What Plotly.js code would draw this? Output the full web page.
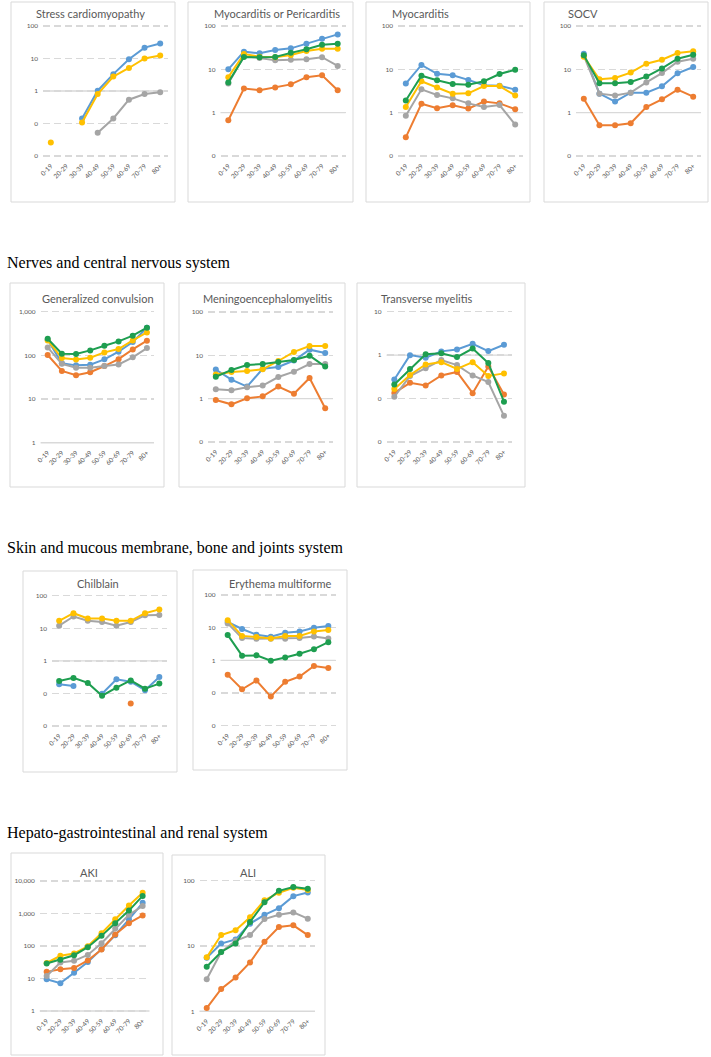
<!DOCTYPE html>
<html>
<head>
<meta charset="utf-8">
<script src="https://cdn.plot.ly/plotly-3.0.1.min.js"></script>
<style>
  html, body { margin: 0; padding: 0; background: #ffffff; }
  #chart { width: 711px; height: 1057px; }
</style>
</head>
<body>
<div id="chart"></div>
<script>
// ---------------- DATA ----------------
const ageGroups = ["0-19", "20-29", "30-39", "40-49", "50-59", "60-69", "70-79", "80+"];
const seriesNames = ["Series 1", "Series 2", "Series 3", "Series 4", "Series 5"];

const sectionHeadings = [
  "Nerves and central nervous system",
  "Skin and mucous membrane, bone and joints system",
  "Hepato-gastrointestinal and renal system"
];

const panelTitles = [
  "Stress cardiomyopathy", "Myocarditis or Pericarditis", "Myocarditis", "SOCV",
  "Generalized convulsion", "Meningoencephalomyelitis", "Transverse myelitis",
  "Chilblain", "Erythema multiforme", "AKI", "ALI"
];

// Stress cardiomyopathy
const stressBlue   = [null, null, 0.143, 1.02, 3.3, 9.5, 21.6, 28.8];
const stressOrange = [null, null, null, null, null, null, null, null];
const stressGray   = [null, null, null, 0.052, 0.143, 0.54, 0.81, 0.91];
const stressYellow = [0.026, null, 0.108, 0.81, 2.77, 5.1, 10, 12.3];
const stressGreen  = [null, null, null, null, null, null, null, null];

// Myocarditis or Pericarditis
const myoPeriBlue   = [10, 25.6, 23.4, 28, 30.5, 39, 51, 64];
const myoPeriOrange = [0.67, 3.6, 3.3, 3.8, 4.5, 6.6, 7.3, 3.3];
const myoPeriGray   = [4.7, 20, 18.3, 16.1, 16.7, 17, 19, 12];
const myoPeriYellow = [6.6, 22.6, 19.6, 19, 21.5, 26.5, 30, 30];
const myoPeriGreen  = [5, 19.2, 19, 19.2, 24, 29, 37, 39];

// Myocarditis
const myoBlue   = [4.7, 12.6, 7.9, 7.3, 5.7, 4.3, 4.2, 3.4];
const myoOrange = [0.27, 1.6, 1.26, 1.48, 1.24, 1.8, 1.64, 1.2];
const myoGray   = [0.85, 3.45, 2.55, 2.14, 1.64, 1.35, 1.5, 0.53];
const myoYellow = [1.35, 5.3, 3.8, 2.75, 2.8, 4.1, 4.1, 2.5];
const myoGreen  = [1.9, 7.1, 5.6, 4.6, 4.4, 5.3, 7.8, 9.8];

// SOCV
const socvBlue   = [23, 2.75, 1.8, 2.9, 2.9, 4.05, 8.1, 11.3];
const socvOrange = [2.1, 0.51, 0.51, 0.57, 1.35, 2.03, 3.4, 2.34];
const socvGray   = [20.4, 2.75, 2.5, 2.9, 5, 8.2, 15, 17.6];
const socvYellow = [19.6, 5.9, 6.3, 8.4, 13.5, 16.7, 23.8, 26];
const socvGreen  = [21, 4.8, 4.75, 5.1, 6.8, 10.5, 17.6, 21.8];

// Generalized convulsion
const convBlue   = [228, 66, 59, 61, 81, 121, 202, 430];
const convOrange = [102, 44, 35, 41, 57, 82, 137, 217];
const convGray   = [152, 64, 52, 52, 57, 62, 90, 147];
const convYellow = [220, 87, 80, 88, 117, 140, 220, 336];
const convGreen  = [240, 109, 107, 130, 166, 209, 282, 430];

// Meningoencephalomyelitis
const menBlue   = [4.7, 2.75, 1.9, 4.9, 5.4, 7.6, 13.5, 11.3];
const menOrange = [0.93, 0.74, 1.02, 1.13, 1.9, 1.3, 3, 0.6];
const menGray   = [1.64, 1.56, 1.83, 2, 3.16, 4.2, 6.3, 6.3];
const menYellow = [3.6, 4.1, 4.35, 4.75, 7.4, 12, 16.4, 16.4];
const menGreen  = [3.2, 4.6, 6, 6.3, 7, 7.8, 9.8, 5.5];

// Transverse myelitis
const tmBlue   = [0.275, 1.0, 0.87, 1.22, 1.35, 1.83, 1.24, 1.73];
const tmOrange = [0.135, 0.23, 0.2, 0.34, 0.41, 0.133, 0.55, 0.124];
const tmGray   = [0.11, 0.33, 0.5, 0.77, 0.59, 0.34, 0.24, 0.04];
const tmYellow = [0.165, 0.35, 0.61, 0.69, 0.48, 0.69, 0.33, 0.38];
const tmGreen  = [0.21, 0.48, 1.05, 1.1, 0.9, 1.42, 0.66, 0.085];

// Chilblain
const chilBlue   = [0.19, 0.17, null, 0.098, 0.27, 0.23, 0.126, 0.32];
const chilOrange = [null, null, null, null, null, 0.049, null, null];
const chilGray   = [12, 23, 17, 15.6, 12, 15.6, 25, 25.7];
const chilYellow = [17, 29, 20, 20, 17, 17, 29, 38];
const chilGreen  = [0.24, 0.3, 0.21, 0.085, 0.15, 0.25, 0.14, 0.2];

// Erythema multiforme
const eryBlue   = [14.9, 9.1, 6.1, 5.3, 7, 7.6, 10, 11.2];
const eryOrange = [0.36, 0.13, 0.24, 0.078, 0.22, 0.32, 0.67, 0.58];
const eryGray   = [13.5, 4.8, 4.6, 4.6, 4.6, 4.8, 5.4, 4.7];
const eryYellow = [17, 5.6, 5.2, 4.7, 5.6, 5.6, 7.7, 8.5];
const eryGreen  = [6, 1.39, 1.42, 0.98, 1.23, 1.6, 2.2, 3.6];

// AKI
const akiBlue   = [9.5, 7.2, 15, 32, 80, 215, 655, 2130];
const akiOrange = [16, 19.4, 21, 36, 78, 225, 505, 870];
const akiGray   = [12, 31, 35, 53, 122, 345, 910, 1700];
const akiYellow = [30, 50, 59, 98, 247, 670, 1770, 4350];
const akiGreen  = [29, 38, 52, 92, 205, 505, 1230, 3480];

// ALI
const aliBlue   = [6.6, 10.9, 12.6, 22, 30, 38, 58, 66];
const aliOrange = [1.12, 2.2, 3.3, 5.6, 11.6, 19.5, 20.7, 14.7];
const aliGray   = [3.1, 8.1, 12, 14.7, 25.9, 30, 32.7, 26.2];
const aliYellow = [6.7, 14.7, 17.4, 27.5, 50, 65.5, 78, 72];
const aliGreen  = [4.8, 8.1, 10.9, 23.3, 46.6, 70, 80, 75];

// Y tick values and labels per panel
const ticks4dec = [0.01, 0.1, 1, 10, 100];
const ticks4lab = ["0", "0", "1", "10", "100"];
const ticks3dec = [0.1, 1, 10, 100];
const ticks3lab = ["0", "1", "10", "100"];
const convTicks = [1, 10, 100, 1000];
const convLabels = ["1", "10", "100", "1,000"];
const tmTicks = [0.01, 0.1, 1, 10];
const tmLabels = ["0", "0", "1", "10"];
const akiTicks = [1, 10, 100, 1000, 10000];
const akiLabels = ["1", "10", "100", "1,000", "10,000"];
const aliTicks = [1, 10, 100];
const aliLabels = ["1", "10", "100"];

const panelSeries = [
  [stressBlue, stressOrange, stressGray, stressYellow, stressGreen],
  [myoPeriBlue, myoPeriOrange, myoPeriGray, myoPeriYellow, myoPeriGreen],
  [myoBlue, myoOrange, myoGray, myoYellow, myoGreen],
  [socvBlue, socvOrange, socvGray, socvYellow, socvGreen],
  [convBlue, convOrange, convGray, convYellow, convGreen],
  [menBlue, menOrange, menGray, menYellow, menGreen],
  [tmBlue, tmOrange, tmGray, tmYellow, tmGreen],
  [chilBlue, chilOrange, chilGray, chilYellow, chilGreen],
  [eryBlue, eryOrange, eryGray, eryYellow, eryGreen],
  [akiBlue, akiOrange, akiGray, akiYellow, akiGreen],
  [aliBlue, aliOrange, aliGray, aliYellow, aliGreen]
];
const panelTicks = [
  [ticks4dec, ticks4lab], [ticks3dec, ticks3lab], [ticks3dec, ticks3lab], [ticks3dec, ticks3lab],
  [convTicks, convLabels], [ticks3dec, ticks3lab], [tmTicks, tmLabels],
  [ticks4dec, ticks4lab], [ticks4dec, ticks4lab], [akiTicks, akiLabels], [aliTicks, aliLabels]
];

// ---------------- LAYOUT / STYLE ----------------
const W = 711, H = 1057;
const colors = ["#5B9BD5", "#ED7D31", "#A5A5A5", "#FFC000", "#1E9E50"];
const gridColor = "#D9D9D9";
const textGray = "#595959";
const uiFont = "Lato, 'Open Sans', sans-serif";

// geometry in pixels: border [x0,y0,x1,y1], plot [x0,yTop,x1,yBottom] (top/bottom tick positions), title centre [x,y]
const geom = [
  { border: [11, 2, 175, 202],   plot: [43, 26, 168, 156],        title: [90, 14] },
  { border: [188, 2, 353, 202],  plot: [220.5, 26, 345.5, 156],   title: [277, 14] },
  { border: [366, 2, 530, 202],  plot: [398, 26, 523, 156],       title: [421, 14] },
  { border: [544, 2, 708, 202],  plot: [576, 26, 701, 156],       title: [583, 14] },
  { border: [10, 283, 164, 487], plot: [40.6, 311.7, 154, 442.7], title: [98, 298] },
  { border: [179, 283, 345, 487], plot: [208, 312, 333, 442],     title: [267, 299] },
  { border: [357, 283, 525, 487], plot: [386.5, 311.7, 511.8, 442], title: [426, 299] },
  { border: [23, 571, 177, 772], plot: [52, 595.7, 166.5, 726],   title: [97.5, 583] },
  { border: [193, 570, 347, 770], plot: [220.5, 595, 335.5, 725.7], title: [280, 583] },
  { border: [11, 853, 163, 1055], plot: [39.8, 881, 149.5, 1011], title: [89, 872] },
  { border: [172, 855, 325, 1055], plot: [199.5, 880.7, 315, 1011.3], title: [248, 872] }
];
const headingPos = [[5, 263], [5, 548], [5, 833]];

const px = x => x / W;
const py = y => 1 - y / H;

const traces = [];
const layout = {
  width: W, height: H,
  margin: { l: 0, r: 0, t: 0, b: 0 },
  paper_bgcolor: "#ffffff",
  plot_bgcolor: "rgba(0,0,0,0)",
  showlegend: false,
  shapes: [],
  annotations: []
};

panelSeries.forEach((series, i) => {
  const n = i + 1;
  const xa = n === 1 ? "x" : "x" + n;
  const ya = n === 1 ? "y" : "y" + n;
  const g = geom[i];
  const tv = panelTicks[i][0], tt = panelTicks[i][1];
  const lo = Math.log10(tv[0]), hi = Math.log10(tv[tv.length - 1]);
  const ppd = (g.plot[3] - g.plot[1]) / (hi - lo);   // pixels per decade
  const padPx = 4;                                    // extra room so edge gridlines are drawn
  const eps = padPx / ppd;

  layout[n === 1 ? "xaxis" : "xaxis" + n] = {
    domain: [px(g.plot[0]), px(g.plot[2])],
    anchor: ya,
    type: "category",
    categoryorder: "array",
    categoryarray: ageGroups,
    range: [-0.5, ageGroups.length - 0.5],
    showgrid: false, zeroline: false, showline: false, ticks: "",
    tickangle: -45,
    tickfont: { family: uiFont, size: 6.5, color: textGray },
    fixedrange: true
  };
  layout[n === 1 ? "yaxis" : "yaxis" + n] = {
    domain: [py(g.plot[3] + padPx), py(g.plot[1] - padPx)],
    anchor: xa,
    type: "log",
    range: [lo - eps, hi + eps],
    tickvals: tv, ticktext: tt,
    showgrid: true, gridcolor: gridColor, gridwidth: 1.4, griddash: "7px,4px",
    zeroline: false, showline: false, ticks: "",
    ticklabelstandoff: 4,
    tickfont: { family: uiFont, size: 6.5, color: textGray },
    fixedrange: true
  };

  // solid line at value 1 (category axis crossing)
  layout.shapes.push({
    type: "line", xref: xa + " domain", yref: ya,
    x0: 0, x1: 1, y0: 1, y1: 1,
    line: { color: gridColor, width: 1.4 }, layer: "below"
  });
  // panel border
  layout.shapes.push({
    type: "rect", xref: "paper", yref: "paper",
    x0: px(g.border[0]), x1: px(g.border[2]), y0: py(g.border[3]), y1: py(g.border[1]),
    line: { color: gridColor, width: 1 }, fillcolor: "rgba(0,0,0,0)"
  });
  // panel title
  layout.annotations.push({
    text: panelTitles[i], xref: "paper", yref: "paper",
    x: px(g.title[0]), y: py(g.title[1]), xanchor: "center", yanchor: "middle",
    showarrow: false, font: { family: uiFont, size: 11, color: textGray }
  });

  series.forEach((vals, s) => {
    if (vals.every(v => v === null)) return;
    traces.push({
      type: "scatter", mode: "lines+markers",
      name: seriesNames[s],
      x: ageGroups, y: vals,
      xaxis: xa, yaxis: ya,
      connectgaps: false,
      line: { color: colors[s], width: 2 },
      marker: { color: colors[s], size: 6 },
      hoverinfo: "skip"
    });
  });
});

sectionHeadings.forEach((h, i) => {
  layout.annotations.push({
    text: h, xref: "paper", yref: "paper",
    x: px(headingPos[i][0]), y: py(headingPos[i][1]),
    xanchor: "left", yanchor: "middle", showarrow: false,
    font: { family: "'Liberation Serif', 'Times New Roman', serif", size: 16, color: "#000000" }
  });
});

Plotly.newPlot("chart", traces, layout, { staticPlot: true, displayModeBar: false });
</script>
</body>
</html>
